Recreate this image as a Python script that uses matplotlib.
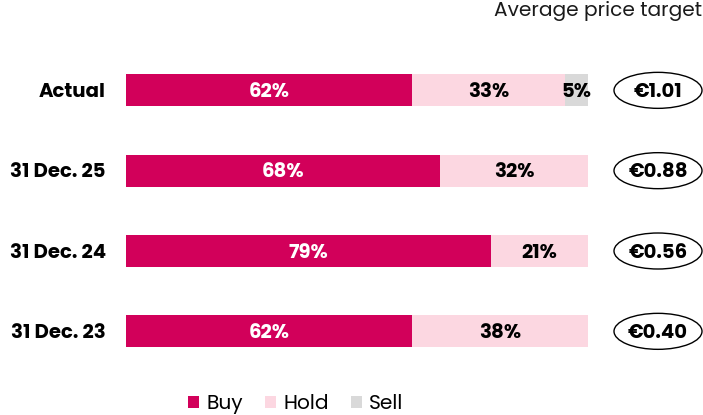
import matplotlib
matplotlib.use("Agg")
import matplotlib.pyplot as plt
from matplotlib.patches import Ellipse, Patch
import matplotlib.transforms as mtransforms

plt.rcParams['font.family'] = ['Poppins', 'DejaVu Sans']

categories = ["Actual", "31 Dec. 25", "31 Dec. 24", "31 Dec. 23"]
buy = [62, 68, 79, 62]
hold = [33, 32, 21, 38]
sell = [5, 0, 0, 0]
targets = ["€1.01", "€0.88", "€0.56", "€0.40"]
series_names = ["Buy", "Hold", "Sell"]

c_buy = "#D2005A"
c_hold = "#FCD7E1"
c_sell = "#D9D9D9"

W, H = 703, 415
ROW_PX = 80.33
fig = plt.figure(figsize=(W / 100, H / 100), dpi=100)
ax = fig.add_axes([126 / W, 1 - 371.5 / H, (588 - 126) / W, 4 * ROW_PX / H])

ypos = list(range(len(categories)))
bh = 0.4
ax.barh(ypos, buy, height=bh, color=c_buy)
ax.barh(ypos, hold, left=buy, height=bh, color=c_hold)
lefts = [b + h for b, h in zip(buy, hold)]
ax.barh(ypos, sell, left=lefts, height=bh, color=c_sell)

ax.set_xlim(0, 100)
ax.set_ylim(3.5, -0.5)
ax.axis("off")

fs = 14.2
# baseline offset: half of the cap height, in data units (y axis inverted)
off = 0.5 * 0.69 * fs * 100 / 72 / ROW_PX


def label(x, y, s, color="black", **kw):
    ax.text(x, y + off, s, ha=kw.pop("ha", "center"), va="baseline", fontsize=fs,
            fontweight="bold", color=color, **kw)


for y, cat, b, h, s in zip(ypos, categories, buy, hold, sell):
    label(-20 / 462 * 100, y, cat, ha="right")
    label(b / 2, y, f"{b}%", color="white")
    if h:
        label(b + h / 2, y, f"{h}%")
    if s:
        label(b + h + s / 2, y, f"{s}%")

trans = mtransforms.blended_transform_factory(fig.transFigure, ax.transData)
for y, t in zip(ypos, targets):
    e = Ellipse((658 / W, y), 88 / W, 36 / ROW_PX, transform=trans,
                facecolor="white", edgecolor="black", linewidth=1.0, clip_on=False,
                zorder=3)
    ax.add_patch(e)
    ax.text(658 / W, y + off, t, transform=trans, ha="center", va="baseline",
            fontsize=fs, fontweight="bold", clip_on=False, zorder=5)

fig.text(702 / W, 1 - 16 / H, "Average price target", ha="right", va="baseline",
         fontsize=14.5, color="#1a1a1a")

handles = [Patch(facecolor=c, edgecolor="none") for c in (c_buy, c_hold, c_sell)]
fig.legend(handles, series_names, loc="center", bbox_to_anchor=(296 / W, 1 - 404 / H),
           ncol=3, frameon=False, fontsize=14.5, handlelength=0.55, handleheight=0.55,
           handletextpad=0.35, columnspacing=1.1, borderaxespad=0, borderpad=0)

fig.savefig("out.png", dpi=100)
